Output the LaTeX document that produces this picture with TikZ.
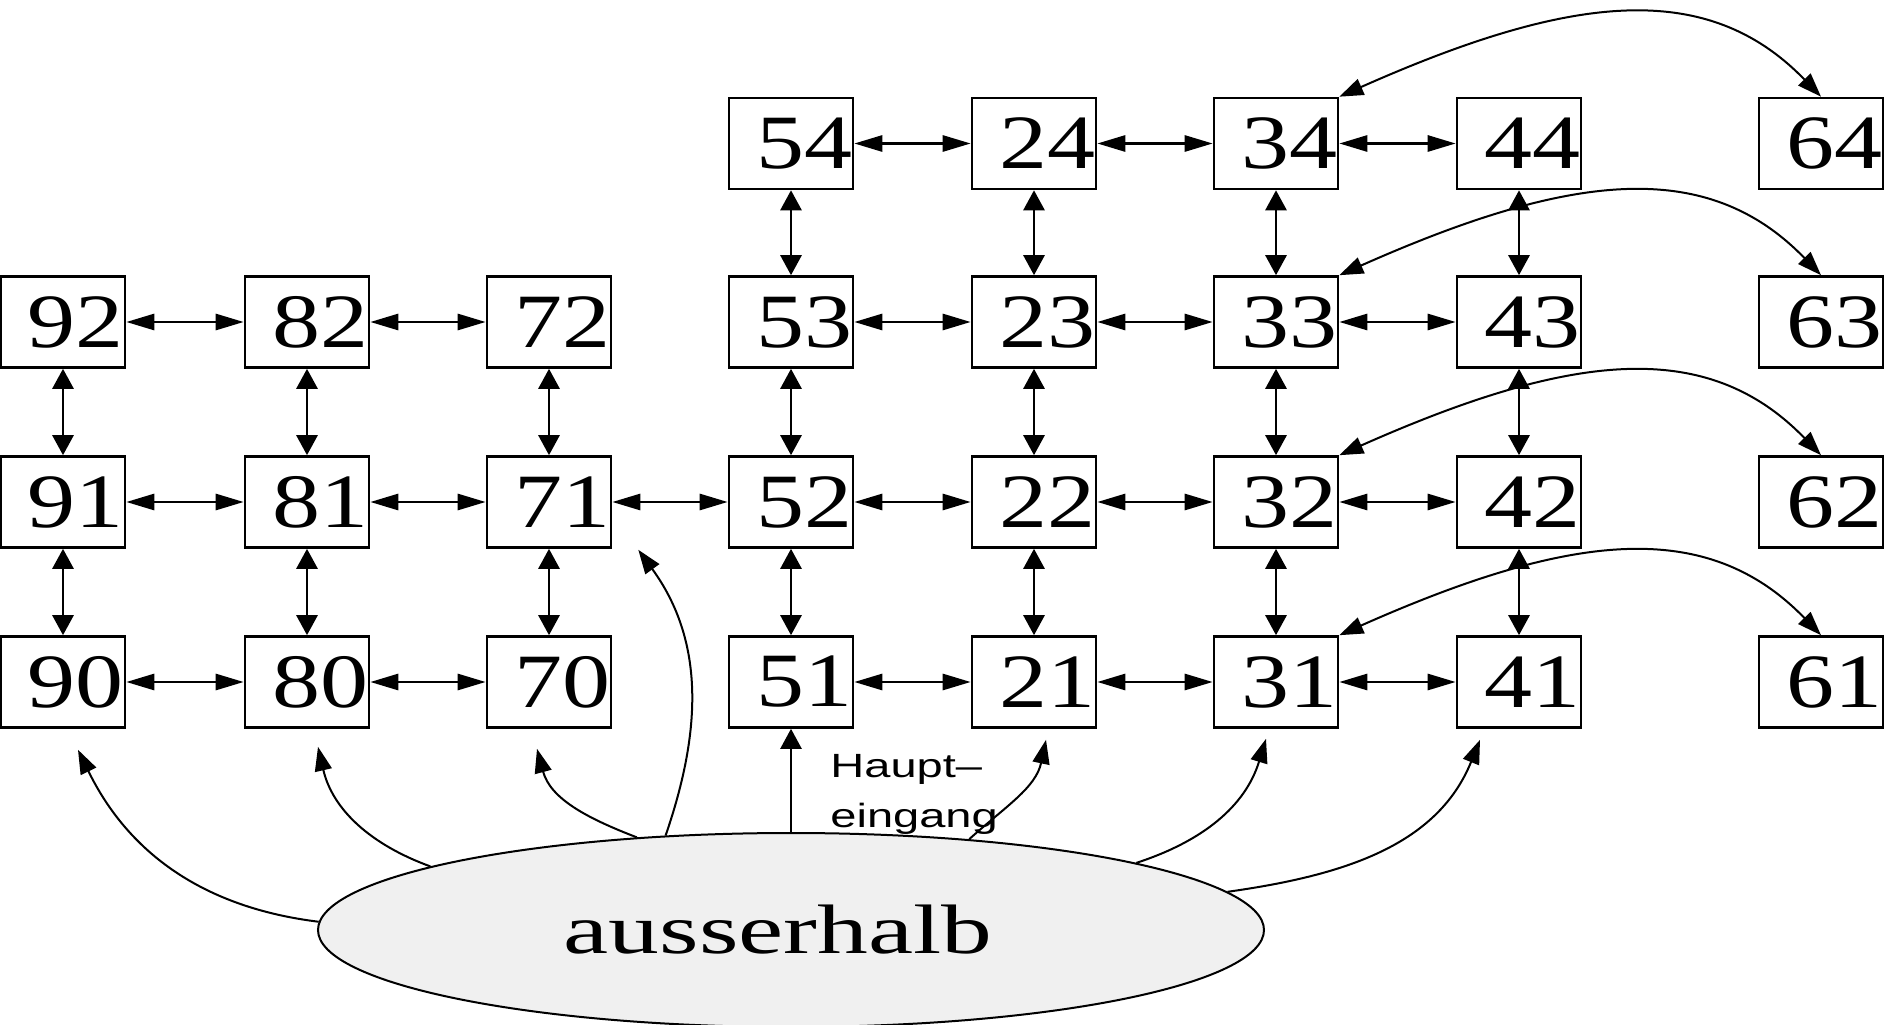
\documentclass[tikz,border=0pt]{standalone}
\usepackage{graphicx}
\usepackage{fontspec}
\setmainfont{Liberation Serif}
\setsansfont{Liberation Sans}
\usetikzlibrary{arrows.meta, shapes.geometric, calc}

% room number, a bit wide and pushed to the right
\newcommand{\nr}[1]{\hspace*{13pt}\scalebox{1.25}[1]{#1}}

\begin{document}
\begin{tikzpicture}[x=0.5pt, y=0.5pt,
    >={Triangle[length=12pt, width=8.5pt]},
    room/.style={draw, line width=1.3pt, minimum width=62pt, minimum height=45.5pt,
        inner sep=0pt, font=\fontsize{38.4}{40}\selectfont},
    hlink/.style={{Triangle[length=14pt, width=8pt]}-{Triangle[length=14pt, width=8pt]}, line width=1.4pt},
    vlink/.style={{Triangle[length=10pt, width=10.5pt]}-{Triangle[length=10pt, width=10.5pt]}, line width=1.4pt},
    way/.style={->, line width=1pt},
    ]
    \useasboundingbox (0,0) rectangle (1884,1024);

    % Row 4
    \node[room] (r54) at (791,880.5) {\nr{54}};
    \node[room] (r24) at (1034,880.5) {\nr{24}};
    \node[room] (r34) at (1276,880.5) {\nr{34}};
    \node[room] (r44) at (1519,880.5) {\nr{44}};
    \node[room] (r64) at (1821,880.5) {\nr{64}};

    % Row 3
    \node[room] (r92) at (63,702) {\nr{92}};
    \node[room] (r82) at (307,702) {\nr{82}};
    \node[room] (r72) at (549,702) {\nr{72}};
    \node[room] (r53) at (791,702) {\nr{53}};
    \node[room] (r23) at (1034,702) {\nr{23}};
    \node[room] (r33) at (1276,702) {\nr{33}};
    \node[room] (r43) at (1519,702) {\nr{43}};
    \node[room] (r63) at (1821,702) {\nr{63}};

    % Row 2
    \node[room] (r91) at (63,522) {\nr{91}};
    \node[room] (r81) at (307,522) {\nr{81}};
    \node[room] (r71) at (549,522) {\nr{71}};
    \node[room] (r52) at (791,522) {\nr{52}};
    \node[room] (r22) at (1034,522) {\nr{22}};
    \node[room] (r32) at (1276,522) {\nr{32}};
    \node[room] (r42) at (1519,522) {\nr{42}};
    \node[room] (r62) at (1821,522) {\nr{62}};

    % Row 1
    \node[room] (r90) at (63,342) {\nr{90}};
    \node[room] (r80) at (307,342) {\nr{80}};
    \node[room] (r70) at (549,342) {\nr{70}};
    \node[room] (r51) at (791,342) {\nr{51}};
    \node[room] (r21) at (1034,342) {\nr{21}};
    \node[room] (r31) at (1276,342) {\nr{31}};
    \node[room] (r41) at (1519,342) {\nr{41}};
    \node[room] (r61) at (1821,342) {\nr{61}};

    % Outside
    \node[ellipse, draw, fill=gray!12, line width=1pt, minimum width=473pt,
        minimum height=97pt, inner sep=0pt, font=\fontsize{35}{40}\selectfont]
        (aussen) at (791,94) {\scalebox{1.45}[1]{ausserhalb}\hspace*{13pt}};
    \node[anchor=west, inner sep=0pt, font=\sffamily\fontsize{16.8}{25}\selectfont]
        (haupt) at (830,232)
        {\scalebox{1.4}[1]{\begin{tabular}{@{}l@{}}Haupt--\\eingang\end{tabular}}};

    % Horizontal links
    \draw[hlink] (r54) -- (r24);
    \draw[hlink] (r24) -- (r34);
    \draw[hlink] (r34) -- (r44);
    \draw[hlink] (r92) -- (r82);
    \draw[hlink] (r82) -- (r72);
    \draw[hlink] (r53) -- (r23);
    \draw[hlink] (r23) -- (r33);
    \draw[hlink] (r33) -- (r43);
    \draw[hlink] (r91) -- (r81);
    \draw[hlink] (r81) -- (r71);
    \draw[hlink] (r71) -- (r52);
    \draw[hlink] (r52) -- (r22);
    \draw[hlink] (r22) -- (r32);
    \draw[hlink] (r32) -- (r42);
    \draw[hlink] (r90) -- (r80);
    \draw[hlink] (r80) -- (r70);
    \draw[hlink] (r51) -- (r21);
    \draw[hlink] (r21) -- (r31);
    \draw[hlink] (r31) -- (r41);

    % Vertical links
    \draw[vlink] (r92) -- (r91);
    \draw[vlink] (r91) -- (r90);
    \draw[vlink] (r82) -- (r81);
    \draw[vlink] (r81) -- (r80);
    \draw[vlink] (r72) -- (r71);
    \draw[vlink] (r71) -- (r70);
    \draw[vlink] (r54) -- (r53);
    \draw[vlink] (r53) -- (r52);
    \draw[vlink] (r52) -- (r51);
    \draw[vlink] (r24) -- (r23);
    \draw[vlink] (r23) -- (r22);
    \draw[vlink] (r22) -- (r21);
    \draw[vlink] (r34) -- (r33);
    \draw[vlink] (r33) -- (r32);
    \draw[vlink] (r32) -- (r31);
    \draw[vlink] (r44) -- (r43);
    \draw[vlink] (r43) -- (r42);
    \draw[vlink] (r42) -- (r41);

    % Jumps over column 4
    \draw[<->, line width=1pt] (r34.north east) .. controls +(234,104) and +(-113,117) .. (r64.north);
    \draw[<->, line width=1pt] (r33.north east) .. controls +(234,104) and +(-113,117) .. (r63.north);
    \draw[<->, line width=1pt] (r32.north east) .. controls +(234,104) and +(-113,117) .. (r62.north);
    \draw[<->, line width=1pt] (r31.north east) .. controls +(234,104) and +(-113,117) .. (r61.north);

    % Ways in from outside
    \draw[way] (aussen.179) to[out=173, in=-64] ($(r90.south)+(15,-21)$);
    \draw[way] (aussen.170) to[out=160, in=-77] ($(r80.south)+(11,-18)$);
    \draw[way] (aussen.149) to[out=159, in=-75] ($(r70.south)+(-12,-20)$);
    \draw[way] (aussen.143) to[out=71, in=-54] ($(r71.south east)+(26,-1)$);
    \draw[vlink, -{Triangle[length=10pt, width=10.5pt]}, line width=1.2pt] (aussen.north) -- (r51.south);
    \draw[way] (aussen.27) to[out=42, in=-102] ($(r21.south)+(12,-11)$);
    \draw[way] (aussen.11.5) to[out=18, in=-107] ($(r31.south)+(-10,-10)$);
    \draw[way] (aussen.5.6) to[out=8, in=-112] ($(r41.south)+(-39,-11)$);
\end{tikzpicture}
\end{document}
